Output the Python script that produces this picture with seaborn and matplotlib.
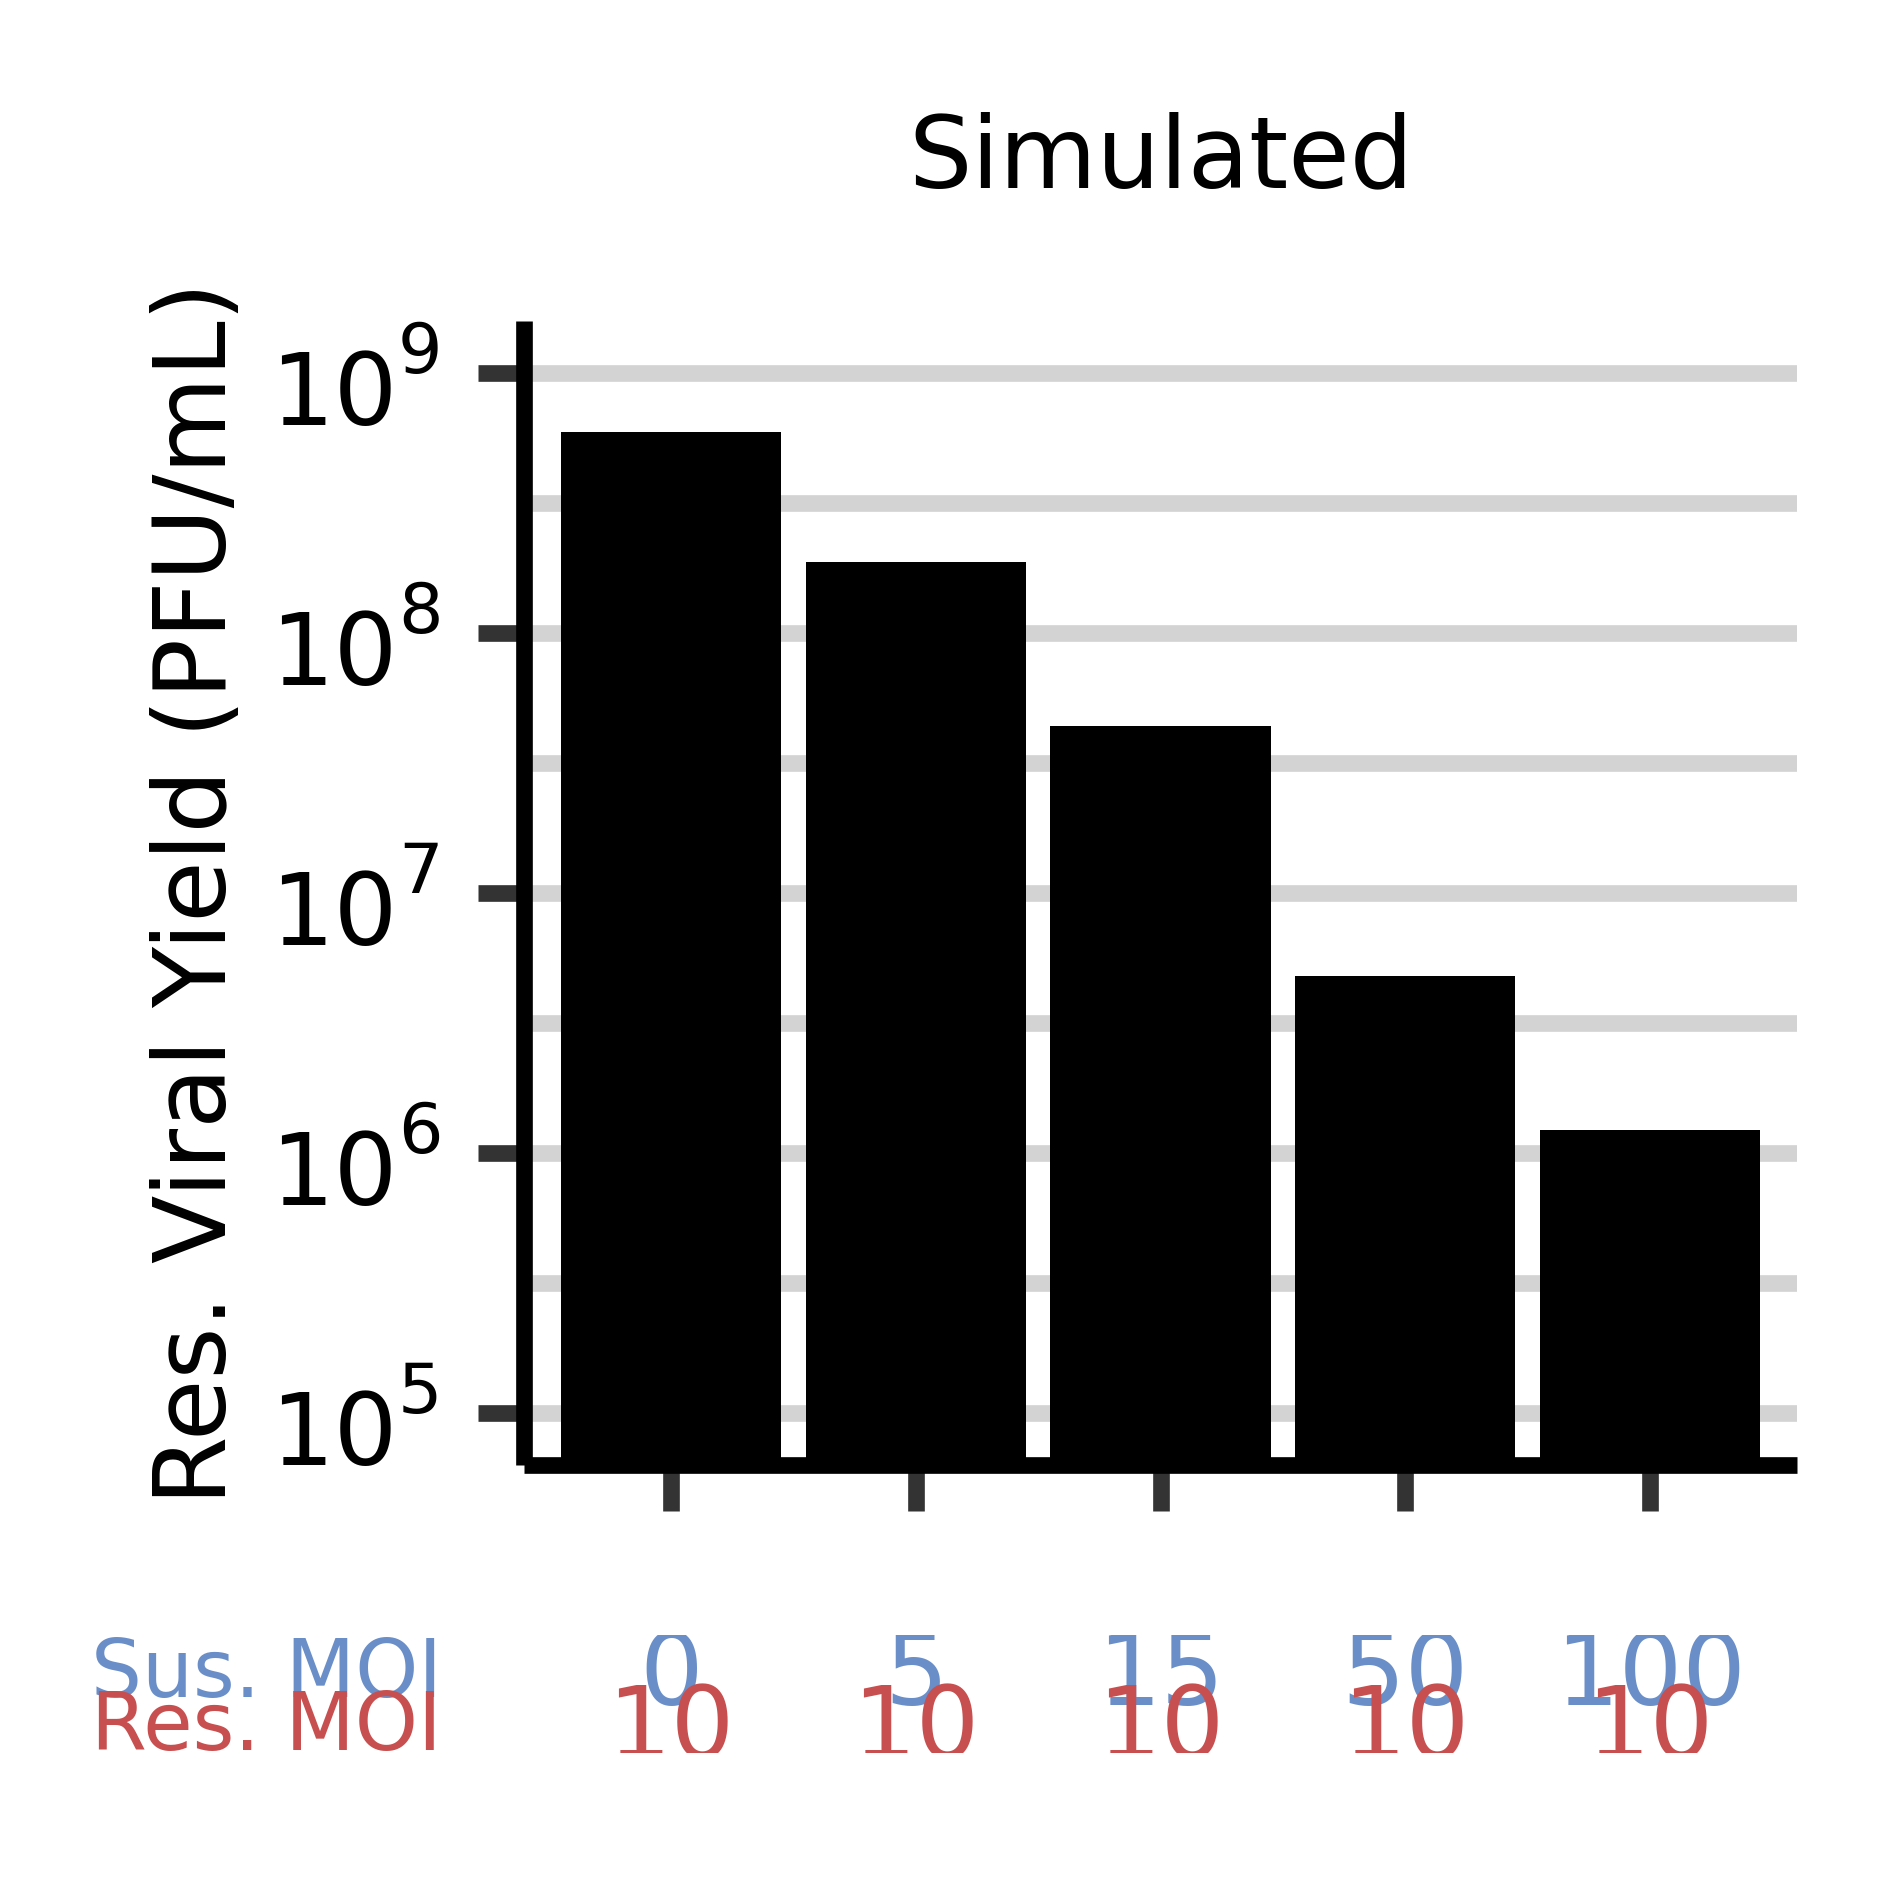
import numpy as np
import pandas as pd
import matplotlib
matplotlib.use("Agg")
import matplotlib.pyplot as plt
import matplotlib.ticker as mticker
from matplotlib.transforms import (Bbox, TransformedBbox, ScaledTranslation,
                                   blended_transform_factory)
import seaborn as sns

# data
sus_moi = ["0", "5", "15", "50", "100"]
res_moi = ["10", "10", "10", "10", "10"]
yield_pfu = [5.9e8, 1.88e8, 4.4e7, 4.8e6, 1.22e6]
ytick_exps = [5, 6, 7, 8, 9]

sus_color = "#6a8ec8"
res_color = "#c84f4f"

sns.set_style("ticks")
plt.rcParams["font.family"] = ["DejaVu Sans"]
plt.rcParams["text.color"] = "black"
plt.rcParams["axes.labelcolor"] = "black"

fig = plt.figure(figsize=(1889 / 300, 1889 / 300), dpi=300)
ax = fig.add_axes([0.2774, 0.2245, 0.6739, 0.6057])

df = pd.DataFrame({"sus": sus_moi, "res": res_moi, "pfu": yield_pfu})
sns.barplot(data=df, x="sus", y="pfu", color="black", saturation=1,
            width=0.9, ax=ax)
for p in ax.patches:
    p.set_edgecolor("none")

ax.set_yscale("log")
ax.set_ylim(10 ** 4.8, 10 ** 9.2)
ax.set_xlim(-0.6, 4.6)

# major ticks on decades, grid on half decades too
major = [10.0 ** e for e in ytick_exps]
ax.yaxis.set_major_locator(mticker.FixedLocator(major))
ax.yaxis.set_major_formatter(mticker.NullFormatter())
ax.yaxis.set_minor_locator(mticker.FixedLocator(10 ** (np.arange(5, 9) + 0.5)))
ax.yaxis.set_minor_formatter(mticker.NullFormatter())
ax.grid(which="both", axis="y", color="lightgray", linewidth=4)
ax.set_axisbelow(True)

ax.tick_params(axis="both", which="major", length=11, width=4,
               color="#333333")
ax.tick_params(axis="y", which="minor", length=0)
ax.set_xticklabels([])
ax.set_xlabel("")

# y tick labels as 10 with a raised exponent
ytrans = ax.get_yaxis_transform()
base_off = ScaledTranslation(-127 / 300, -52 / 300, fig.dpi_scale_trans)
sup_off = ScaledTranslation(-126 / 300, 0, fig.dpi_scale_trans)
for e, v in zip(ytick_exps, major):
    ax.text(0, v, "10", transform=ytrans + base_off, ha="right",
            va="baseline", fontsize=24, clip_on=False)
    ax.text(0, v, str(e), transform=ytrans + sup_off, ha="left",
            va="baseline", fontsize=16.8, clip_on=False)

for s in ["top", "right"]:
    ax.spines[s].set_visible(False)
for s in ["left", "bottom"]:
    ax.spines[s].set_linewidth(4)
    ax.spines[s].set_color("black")
    ax.spines[s].set_capstyle("butt")

ax.set_ylabel("Res. Viral Yield (PFU/mL)", fontsize=24)
ax.yaxis.set_label_coords(-0.2175, 0.5)
ax.set_title("Simulated", fontsize=24, pad=32)

# MOI labels under each bar
trans = blended_transform_factory(ax.transData, fig.transFigure)
clip = TransformedBbox(Bbox([[0, 1 - 1753 / 1889], [1, 1 - 1635 / 1889]]),
                       fig.transFigure)
for i, (s, r) in enumerate(zip(sus_moi, res_moi)):
    t1 = fig.text(i, 0.0974, s, transform=trans, ha="center", va="baseline",
                  fontsize=24, color=sus_color)
    t2 = fig.text(i, 0.0693, r, transform=trans, ha="center", va="baseline",
                  fontsize=24, color=res_color)
    for t in (t1, t2):
        t.set_clip_box(clip)
        t.set_clip_on(True)

fig.text(0.234, 0.1016, "Sus. MOI", ha="right", va="baseline",
         fontsize=19.3, color=sus_color)
fig.text(0.234, 0.0736, "Res. MOI", ha="right", va="baseline",
         fontsize=19.3, color=res_color)

fig.savefig("out.png", dpi=300)
